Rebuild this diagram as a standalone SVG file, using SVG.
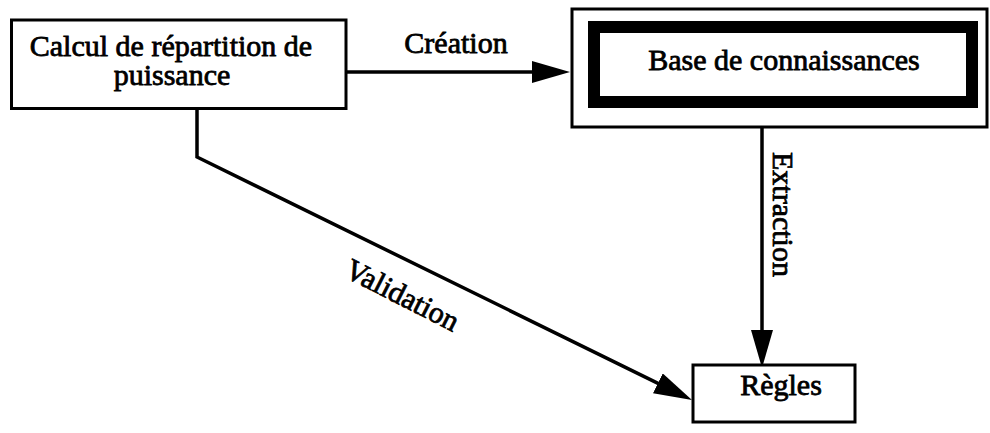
<svg xmlns="http://www.w3.org/2000/svg" width="990" height="433" viewBox="0 0 990 433">
  <defs>
    <style>
      .box { fill: #fff; stroke: #000; stroke-width: 3; }
      .thick { fill: none; stroke: #000; stroke-width: 12; }
      .wire { fill: none; stroke: #000; stroke-width: 3.5; stroke-linejoin: miter; }
      .lbl { font-family: "Liberation Serif", "Times New Roman", serif; font-size: 30px; fill: #000; stroke: #000; stroke-width: 0.8; }
    </style>
    <!-- solid triangular arrowhead, tip sits 10px beyond the line end -->
    <marker id="head" markerUnits="userSpaceOnUse" markerWidth="42" markerHeight="26" viewBox="0 0 42 26" refX="28" refY="11" orient="auto">
      <path d="M0,0 L38,11 L0,22 Z" fill="#000"/>
    </marker>
  </defs>

  <rect width="990" height="433" fill="#fff"/>

  <!-- connectors -->
  <g id="connectors">
    <path id="edge-creation" class="wire" d="M346,72 L560,72" marker-end="url(#head)"/>
    <text class="lbl" x="456" y="53" text-anchor="middle">Création</text>

    <path id="edge-extraction" class="wire" d="M762,127 L762,358" marker-end="url(#head)"/>
    <text class="lbl" x="773" y="152" font-size="32" transform="rotate(90 773 152)">Extraction</text>

    <path id="edge-validation" class="wire" d="M197,108.5 L197,157 L683,395.6" marker-end="url(#head)"/>
    <text class="lbl" x="343" y="276" transform="rotate(27 343 276)">Validation</text>
  </g>

  <!-- power-flow computation -->
  <g id="node-calcul">
    <rect class="box" x="11.5" y="20" width="334.5" height="88.5"/>
    <text class="lbl" x="171" y="56" text-anchor="middle">Calcul de répartition de</text>
    <text class="lbl" x="172" y="85" text-anchor="middle">puissance</text>
  </g>

  <!-- knowledge base: thin outer frame with heavy inner frame -->
  <g id="node-base">
    <rect class="box" x="572" y="9" width="415" height="118"/>
    <rect class="thick" x="594" y="27" width="378" height="75"/>
    <text class="lbl" x="784" y="70" font-size="31" text-anchor="middle">Base de connaissances</text>
  </g>

  <!-- rules -->
  <g id="node-regles">
    <rect class="box" x="693" y="365" width="162" height="57"/>
    <text class="lbl" x="781" y="395" font-size="32" text-anchor="middle">Règles</text>
  </g>
</svg>
